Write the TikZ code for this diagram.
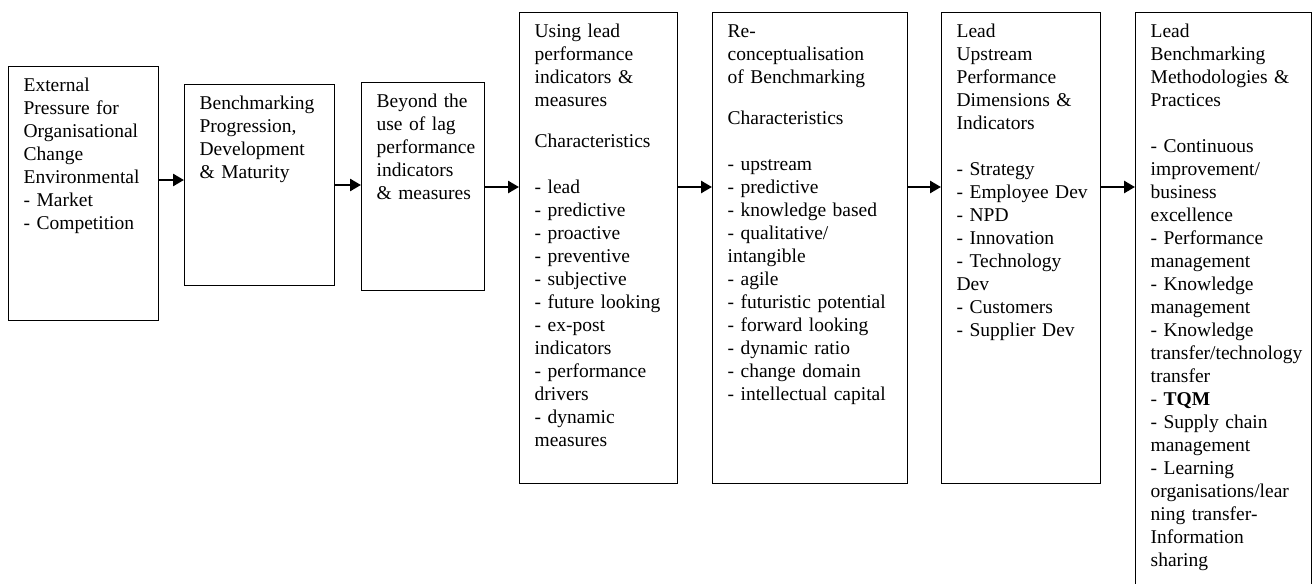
\documentclass[tikz,border=0pt]{standalone}
\usepackage{fontspec}
\setmainfont{Liberation Serif}
\usetikzlibrary{arrows.meta}

\tikzset{
  stage/.style={draw,line width=1.3pt,anchor=north west,inner xsep=15pt,inner ysep=0pt,
    align=left,text height=24.4pt,font=\fontsize{19.5}{23}\selectfont},
  flow/.style={line width=2.6pt,-{Triangle[length=11pt,width=12pt]}}
}

\begin{document}
\begin{tikzpicture}[x=1pt,y=-1pt]
\useasboundingbox (0,0) rectangle (1313,583);

  \node[stage,text width=120pt,text depth=229.6pt] (ext) at (8,66)
    {External\\ Pressure for\\ Organisational\\ Change\\ Environmental\\ - Market\\ - Competition};
  \node[stage,text width=120pt,text depth=176.6pt] (prog) at (184,84)
    {Benchmarking\\ Progression,\\ Development\\ \& Maturity};
  \node[stage,text width=93pt,text depth=183.6pt] (lag) at (361,82)
    {Beyond the\\ use of lag\\ performance\\ indicators\\ \mbox{\& measures}};
  \node[stage,text width=128pt,text depth=446.6pt] (lead) at (519,12)
    {Using lead\\ performance\\ indicators \&\\ measures\\[18pt]
     Characteristics\\[23pt]
     - lead\\ - predictive\\ - proactive\\ - preventive\\ - subjective\\ - future looking\\
     - ex-post\\ indicators\\ - performance\\ drivers\\ - dynamic\\ measures};
  \node[stage,text width=165pt,text depth=446.6pt] (recon) at (712,12)
    {Re-\\ conceptualisation\\ of Benchmarking\\[18pt]
     Characteristics\\[23pt]
     - upstream\\ - predictive\\ - knowledge based\\ - qualitative/\\ intangible\\ - agile\\
     - futuristic potential\\ - forward looking\\ - dynamic ratio\\ - change domain\\
     - intellectual capital};
  \node[stage,text width=129pt,text depth=446.6pt] (dims) at (941,12)
    {Lead\\ Upstream\\ Performance\\ Dimensions \&\\ Indicators\\[23pt]
     - Strategy\\ \mbox{- Employee Dev}\\ - NPD\\ - Innovation\\ - Technology\\ Dev\\
     - Customers\\ - Supplier Dev};
  \node[stage,text width=146pt,text depth=555.6pt] (meth) at (1135,12)
    {Lead\\ Benchmarking\\ Methodologies \&\\ Practices\\[23pt]
     - Continuous\\ improvement/\\ business\\ excellence\\ - Performance\\ management\\
     - Knowledge\\ management\\ - Knowledge\\ transfer/technology\\ transfer\\ - \textbf{TQM}\\
     - Supply chain\\ management\\ - Learning\\ organisations/lear\\ ning transfer-\\
     Information\\ sharing};

  \coordinate (h1) at (0,180);
  \coordinate (h2) at (0,185);
  \coordinate (h3) at (0,187);

  \draw[flow] (ext.east |- h1) -- (prog.west |- h1);
  \draw[flow] (prog.east |- h2) -- (lag.west |- h2);
  \draw[flow] (lag.east |- h3) -- (lead.west |- h3);
  \draw[flow] (lead.east |- h3) -- (recon.west |- h3);
  \draw[flow] (recon.east |- h3) -- (dims.west |- h3);
  \draw[flow] (dims.east |- h3) -- (meth.west |- h3);

\end{tikzpicture}
\end{document}
